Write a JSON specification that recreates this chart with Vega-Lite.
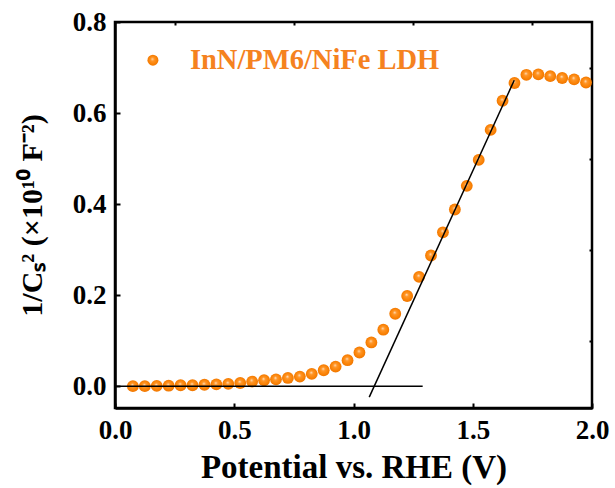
{
  "$schema": "https://vega.github.io/schema/vega-lite/v6.json",
  "width": 477,
  "height": 386,
  "autosize": {"type": "none"},
  "padding": {"left": 115, "top": 22, "right": 23, "bottom": 80},
  "background": "white",
  "config": {
    "view": {"stroke": "#000000", "strokeWidth": 2.5},
    "axis": {
      "domainColor": "#000000",
      "domainWidth": 2.5,
      "tickColor": "#000000",
      "tickWidth": 2,
      "grid": false,
      "labelFont": "Liberation Serif",
      "labelFontWeight": "bold",
      "labelFontSize": 27,
      "labelColor": "#000000",
      "titleFont": "Liberation Serif",
      "titleFontWeight": "bold",
      "titleColor": "#000000"
    }
  },
  "datasets": {
    "pts": [
      {"V": 0.075, "c": 0.000},
      {"V": 0.125, "c": 0.000},
      {"V": 0.175, "c": 0.0005},
      {"V": 0.225, "c": 0.001},
      {"V": 0.275, "c": 0.002},
      {"V": 0.325, "c": 0.002},
      {"V": 0.375, "c": 0.003},
      {"V": 0.425, "c": 0.004},
      {"V": 0.475, "c": 0.005},
      {"V": 0.525, "c": 0.007},
      {"V": 0.575, "c": 0.010},
      {"V": 0.625, "c": 0.013},
      {"V": 0.675, "c": 0.015},
      {"V": 0.725, "c": 0.018},
      {"V": 0.775, "c": 0.021},
      {"V": 0.825, "c": 0.027},
      {"V": 0.875, "c": 0.035},
      {"V": 0.925, "c": 0.043},
      {"V": 0.975, "c": 0.057},
      {"V": 1.025, "c": 0.074},
      {"V": 1.075, "c": 0.096},
      {"V": 1.125, "c": 0.124},
      {"V": 1.175, "c": 0.159},
      {"V": 1.225, "c": 0.198},
      {"V": 1.275, "c": 0.240},
      {"V": 1.325, "c": 0.287},
      {"V": 1.375, "c": 0.338},
      {"V": 1.425, "c": 0.388},
      {"V": 1.475, "c": 0.440},
      {"V": 1.525, "c": 0.497},
      {"V": 1.575, "c": 0.563},
      {"V": 1.625, "c": 0.627},
      {"V": 1.675, "c": 0.666},
      {"V": 1.725, "c": 0.684},
      {"V": 1.775, "c": 0.685},
      {"V": 1.825, "c": 0.681},
      {"V": 1.875, "c": 0.677},
      {"V": 1.925, "c": 0.674},
      {"V": 1.975, "c": 0.667}
    ],
    "lines": [
      {"line": "baseline", "V": 0.0, "c": 0.0},
      {"line": "baseline", "V": 1.29, "c": 0.0},
      {"line": "fit", "V": 1.066, "c": -0.024},
      {"line": "fit", "V": 1.674, "c": 0.672}
    ],
    "legend": [
      {"V": 0.159, "c": 0.716, "name": "InN/PM6/NiFe LDH", "tx": 0.314}
    ]
  },
  "resolve": {"axis": {"x": "independent", "y": "independent"}},
  "layer": [
    {
      "data": {"name": "pts"},
      "mark": {
        "type": "point",
        "filled": true,
        "size": 140,
        "opacity": 1,
        "fill": {
          "gradient": "radial",
          "x1": 0.45, "y1": 0.38, "r1": 0,
          "x2": 0.5, "y2": 0.5, "r2": 0.55,
          "stops": [
            {"offset": 0, "color": "#FFE2C2"},
            {"offset": 0.28, "color": "#FF9628"},
            {"offset": 0.7, "color": "#FA8205"},
            {"offset": 1, "color": "#EB7200"}
          ]
        },
        "strokeWidth": 0
      },
      "encoding": {
        "x": {
          "field": "V", "type": "quantitative",
          "scale": {"domain": [0, 2.0], "nice": false, "zero": false},
          "axis": {
            "values": [0, 0.5, 1.0, 1.5, 2.0],
            "format": ".1f",
            "tickSize": -5,
            "labelPadding": 14,
            "title": "Potential vs. RHE (V)",
            "titleFontSize": 33,
            "titlePadding": 8,
            "labelFlush": false,
            "labelOverlap": false
          }
        },
        "y": {
          "field": "c", "type": "quantitative",
          "scale": {"domain": [-0.048, 0.8], "nice": false, "zero": false},
          "axis": {
            "values": [0, 0.2, 0.4, 0.6, 0.8],
            "format": ".1f",
            "tickSize": -5,
            "labelPadding": 14,
            "title": "1/Cₛ² (×10¹⁰ F⁻²)",
            "titleFontSize": 30,
            "titlePadding": 25,
            "labelFlush": false,
            "labelOverlap": false
          }
        }
      }
    },
    {
      "data": {"name": "lines"},
      "mark": {"type": "line", "color": "#000000", "strokeWidth": 1.5},
      "encoding": {
        "x": {
          "field": "V", "type": "quantitative",
          "axis": {
            "values": [0.25, 0.75, 1.25, 1.75],
            "tickSize": -3,
            "labels": false,
            "domain": false,
            "title": null
          }
        },
        "y": {
          "field": "c", "type": "quantitative",
          "axis": {
            "values": [0.1, 0.3, 0.5, 0.7],
            "tickSize": -3,
            "labels": false,
            "domain": false,
            "title": null
          }
        },
        "detail": {"field": "line"}
      }
    },
    {
      "data": {"name": "legend"},
      "mark": {
        "type": "point",
        "filled": true,
        "size": 120,
        "opacity": 1,
        "fill": {
          "gradient": "radial",
          "x1": 0.45, "y1": 0.38, "r1": 0,
          "x2": 0.5, "y2": 0.5, "r2": 0.55,
          "stops": [
            {"offset": 0, "color": "#FFE2C2"},
            {"offset": 0.28, "color": "#FF9628"},
            {"offset": 0.7, "color": "#FA8205"},
            {"offset": 1, "color": "#EB7200"}
          ]
        },
        "strokeWidth": 0
      },
      "encoding": {
        "x": {"field": "V", "type": "quantitative", "axis": null},
        "y": {"field": "c", "type": "quantitative", "axis": null}
      }
    },
    {
      "data": {"name": "legend"},
      "mark": {
        "type": "text",
        "align": "left",
        "baseline": "middle",
        "font": "Liberation Serif",
        "fontWeight": "bold",
        "fontSize": 28.5,
        "color": "#F5821F"
      },
      "encoding": {
        "x": {"field": "tx", "type": "quantitative", "axis": null},
        "y": {"field": "c", "type": "quantitative", "axis": null},
        "text": {"field": "name"}
      }
    }
  ]
}
